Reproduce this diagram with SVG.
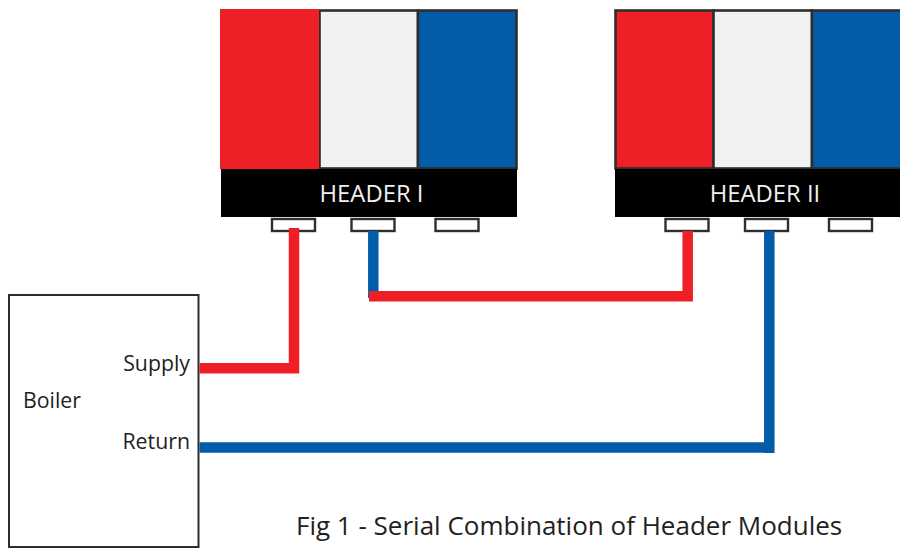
<svg xmlns="http://www.w3.org/2000/svg" width="900" height="548" viewBox="0 0 900 548">
<style>
.bg{fill:#fff}
.cell{stroke:#2f2d2e;stroke-width:2.6}
.r{fill:#ee1f27}.w{fill:#f1f1f2}.b{fill:#035ca9}
.bar{fill:#000}
.port{fill:#fff;stroke:#2f2d2e;stroke-width:2.4}
.t{font-family:"Open Sans","Noto Sans","Liberation Sans",sans-serif;fill:#231f20}
.h{fill:#f1f1f2;font-size:23.8px;text-anchor:middle}
.l{font-size:21.3px}
.pr{fill:none;stroke:#ee1f27;stroke-width:10.5}
.pb{fill:none;stroke:#035ca9;stroke-width:10.5}
</style>
<rect class="bg" width="900" height="548"/>
<g id="header-1">
<rect class="cell w" x="319.500" y="10.500" width="98.500" height="158"/>
<rect class="cell b" x="418" y="10.500" width="98.500" height="158"/>
<rect class="r" x="220" y="9" width="99" height="160"/>
<rect class="bar" x="221" y="169" width="296" height="48"/>
<text class="t h" x="371.500" y="202">HEADER I</text>
<rect class="port" x="272" y="219" width="43" height="12"/>
<rect class="port" x="351.500" y="219" width="43" height="12"/>
<rect class="port" x="435.500" y="219" width="43" height="12"/>
</g>
<g id="header-2">
<rect class="cell r" x="615.500" y="10.500" width="98" height="158"/>
<rect class="cell w" x="713.500" y="10.500" width="98.500" height="158"/>
<rect class="cell b" x="812" y="10.500" width="98.500" height="158"/>
<rect class="bar" x="615" y="169" width="285" height="48"/>
<text class="t h" x="765" y="202">HEADER II</text>
<rect class="port" x="665.500" y="219" width="43" height="12"/>
<rect class="port" x="745" y="219" width="43" height="12"/>
<rect class="port" x="829" y="219" width="43" height="12"/>
</g>
<g id="boiler">
<rect x="9" y="295" width="189.500" height="252" fill="#fff" stroke="#2f2d2e" stroke-width="2"/>
<text class="t l" x="23" y="408">Boiler</text>
<text class="t l" x="190" y="371" text-anchor="end">Supply</text>
<text class="t l" x="190" y="449" text-anchor="end">Return</text>
</g>
<g id="connectors">
<path class="pb" d="M373.300 231V298"/>
<path class="pr" d="M294 228V373.500M199.500 368.300H291"/>
<path class="pr" d="M369 296.300H692M687.700 231V301.500"/>
<path class="pb" d="M769.300 231V453M199.500 447.500H772"/>
</g>
<text id="caption" class="t" x="296" y="535" font-size="26">Fig 1 - Serial Combination of Header Modules</text>
</svg>
